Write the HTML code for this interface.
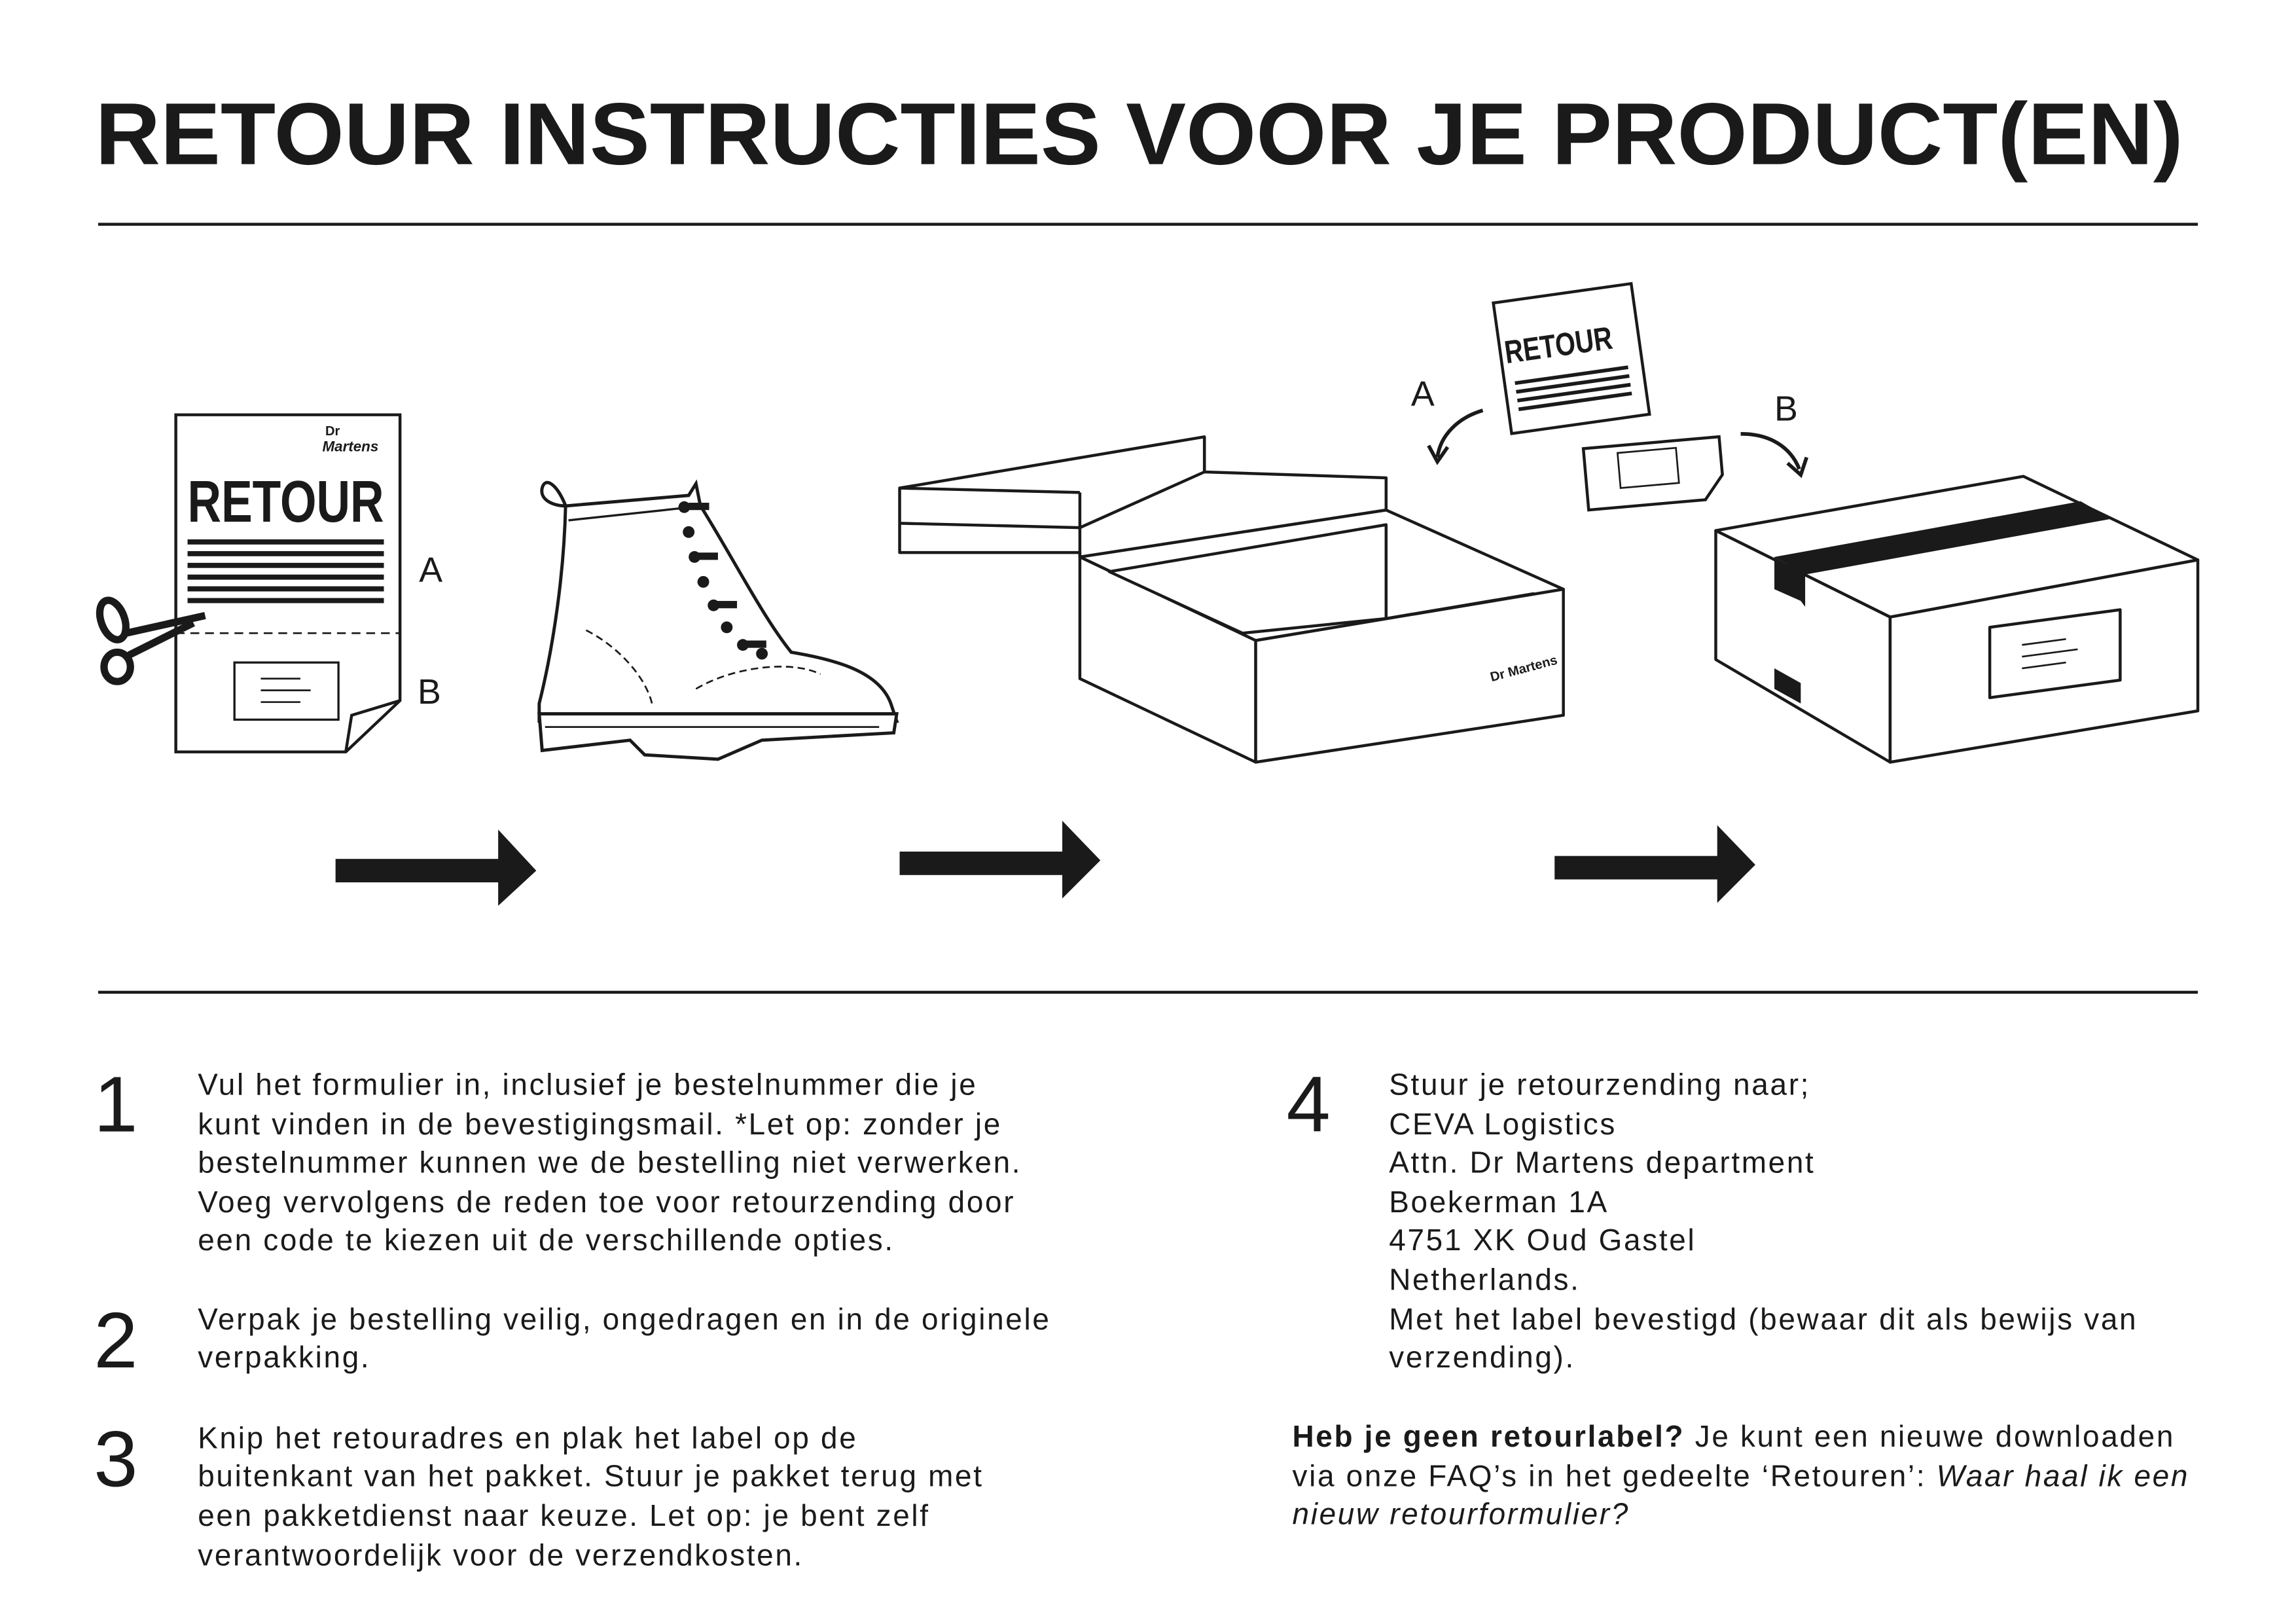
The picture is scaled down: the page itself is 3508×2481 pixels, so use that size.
<!DOCTYPE html>
<html><head><meta charset="utf-8"><style>
html,body{margin:0;padding:0;background:#fff}
svg{display:block}
text{font-family:"Liberation Sans",sans-serif;fill:#1a1a1a}
</style></head><body>
<svg width="3508" height="2481" viewBox="0 0 1567 1108" preserveAspectRatio="none" xmlns="http://www.w3.org/2000/svg">
<rect width="1567" height="1108" fill="#fff"/>
<text x="65" y="112" font-size="60" font-weight="bold" textLength="1425" lengthAdjust="spacingAndGlyphs">RETOUR INSTRUCTIES VOOR JE PRODUCT(EN)</text>
<line x1="67" y1="153" x2="1500" y2="153" stroke="#1a1a1a" stroke-width="2"/>
<line x1="67" y1="677" x2="1500" y2="677" stroke="#1a1a1a" stroke-width="2"/>

<g fill="#1a1a1a">
<rect x="229" y="586" width="112" height="16"/><polygon points="340,566 366,594 340,618"/>
<rect x="614" y="581" width="112" height="16"/><polygon points="725,560 751,587 725,613"/>
<rect x="1061" y="584" width="112" height="16"/><polygon points="1172,563 1198,590 1172,616"/>
</g>

<!-- Document -->
<g stroke="#1a1a1a" stroke-width="2" fill="none">
<path d="M120,283 H273 V478 L236,513 H120 Z" fill="#fff"/>
<path d="M236,513 L240,488 L273,478" />
<line x1="120" y1="432" x2="273" y2="432" stroke-dasharray="6,4" stroke-width="1.2"/>
<rect x="160" y="452" width="71" height="39" stroke-width="1.5"/>
<line x1="178" y1="463" x2="205" y2="463" stroke-width="1.2"/><line x1="178" y1="471" x2="212" y2="471" stroke-width="1.2"/><line x1="178" y1="479" x2="205" y2="479" stroke-width="1.2"/>
</g>
<g fill="#1a1a1a">
<rect x="128" y="368" width="134" height="3.5"/><rect x="128" y="376" width="134" height="3.5"/><rect x="128" y="384" width="134" height="3.5"/><rect x="128" y="392" width="134" height="3.5"/><rect x="128" y="400" width="134" height="3.5"/><rect x="128" y="408" width="134" height="3.5"/>
</g>
<text x="128" y="356" font-size="40" font-weight="bold" textLength="134" lengthAdjust="spacingAndGlyphs">RETOUR</text>
<text x="222" y="297" font-size="9" font-weight="bold">Dr</text><text x="220" y="308" font-size="10" font-weight="bold" font-style="italic">Martens</text>
<text x="286" y="397" font-size="24">A</text><text x="285" y="480" font-size="24">B</text>
<!-- scissors -->
<g stroke="#1a1a1a" stroke-width="5" fill="none">
<ellipse cx="77" cy="423" rx="8" ry="14" transform="rotate(-20 77 423)"/>
<ellipse cx="80" cy="455" rx="9" ry="10"/>
<line x1="86" y1="432" x2="140" y2="420"/>
<line x1="88" y1="447" x2="132" y2="425"/>
</g>

<!-- Boot -->
<g stroke="#1a1a1a" stroke-width="2.2" fill="#fff">
<path d="M386,345 C380,330 372,325 370,333 C368,342 380,346 388,345 L470,338 L475,330 L478,345 C500,380 520,420 540,445 C570,450 600,458 608,480 L612,492 L368,492 L368,480 C378,440 385,390 386,345 Z"/>
<path d="M368,487 L612,487 L610,500 L520,505 L490,518 L440,515 L430,505 L370,512 Z"/>
<path d="M372,496 L600,496" stroke-width="1.2" fill="none"/>
<path d="M388,355 L472,346" fill="none" stroke-width="1.5"/>
<path d="M475,470 C500,455 540,450 560,460" fill="none" stroke-width="1.2" stroke-dasharray="5,3"/>
<path d="M400,430 C420,440 440,460 445,480" fill="none" stroke-width="1.2" stroke-dasharray="5,3"/>
</g>
<g fill="#1a1a1a">
<circle cx="467" cy="346" r="4"/><circle cx="470" cy="363" r="4"/><circle cx="474" cy="380" r="4"/><circle cx="480" cy="397" r="4"/><circle cx="487" cy="413" r="4"/><circle cx="496" cy="428" r="4"/><circle cx="507" cy="440" r="4"/><circle cx="520" cy="446" r="4"/>
<rect x="470" y="343" width="14" height="5"/><rect x="476" y="377" width="14" height="5"/><rect x="489" y="410" width="14" height="5"/><rect x="509" y="437" width="14" height="5"/>
</g>

<!-- Open box -->
<g stroke="#1a1a1a" stroke-width="2" fill="#fff" stroke-linejoin="round">
<polygon points="614,333 822,298 822,322 946,326 946,348 737,380 737,377 614,377"/>
<line x1="614" y1="357" x2="737" y2="360"/>
<line x1="737" y1="360" x2="822" y2="322"/>
<line x1="822" y1="322" x2="822" y2="298"/>
<line x1="614" y1="333" x2="737" y2="336"/><line x1="737" y1="336" x2="737" y2="380"/>
<polygon points="737,380 946,348 1067,402 857,437"/>
<polygon points="737,380 857,437 857,520 737,463"/>
<polygon points="857,437 1067,402 1067,488 857,520"/>
<polygon points="757,390 946,358 946,422 848,432" fill="#fff"/>
<line x1="946" y1="422" x2="1047" y2="405"/>
</g>
<text x="1018" y="465" font-size="9" font-weight="bold" transform="rotate(-15 1018 465)">Dr Martens</text>

<!-- Closed box -->
<g stroke="#1a1a1a" stroke-width="2" fill="#fff" stroke-linejoin="round">
<polygon points="1171,362 1381,325 1500,382 1290,421"/>
<polygon points="1171,362 1290,421 1290,520 1171,450"/>
<polygon points="1290,421 1500,382 1500,485 1290,520"/>
<polygon points="1358,428 1447,416 1447,464 1358,476"/>
<line x1="1380" y1="440" x2="1410" y2="436" stroke-width="1.2"/><line x1="1380" y1="448" x2="1418" y2="443" stroke-width="1.2"/><line x1="1380" y1="456" x2="1410" y2="452" stroke-width="1.2"/>
</g>
<g fill="#1a1a1a">
<polygon points="1211,380 1420,342 1441,354 1232,392"/>
<polygon points="1211,380 1232,392 1232,414 1229,410 1211,402"/>
<polygon points="1211,456 1229,466 1229,480 1211,470"/>
</g>

<!-- small doc + label -->
<g transform="rotate(-8 1070 245)" stroke="#1a1a1a" stroke-width="2">
<rect x="1025" y="200" width="95" height="90" fill="#fff"/>
<g fill="#1a1a1a" stroke="none">
<rect x="1032" y="255" width="78" height="2.5"/><rect x="1032" y="261" width="78" height="2.5"/><rect x="1032" y="267" width="78" height="2.5"/><rect x="1032" y="273" width="78" height="2.5"/>
</g>
</g>
<text x="1028" y="248" font-size="22" font-weight="bold" transform="rotate(-8 1028 248)" textLength="74" lengthAdjust="spacingAndGlyphs">RETOUR</text>
<g transform="rotate(-5 1128 320)" stroke="#1a1a1a" stroke-width="2" fill="#fff">
<path d="M1082,302 H1175 V328 L1162,344 H1082 Z"/>
<rect x="1105" y="307" width="40" height="24" stroke-width="1.2"/>
</g>
<g stroke="#1a1a1a" stroke-width="2.5" fill="none">
<path d="M1012,280 C995,285 983,297 981,312"/><path d="M975,304 L981,315 L988,305"/>
<path d="M1188,296 C1208,296 1222,305 1228,320"/><path d="M1220,316 L1229,324 L1233,312"/>
</g>
<text x="963" y="277" font-size="24">A</text><text x="1211" y="287" font-size="24">B</text>

<!-- numbers -->
<g font-size="54">
<text x="64" y="772">1</text><text x="64" y="933">2</text><text x="64" y="1014">3</text><text x="878" y="772">4</text>
</g>
<g font-size="20.5" letter-spacing="1.2">
<text x="135" y="747">Vul het formulier in, inclusief je bestelnummer die je</text>
<text x="135" y="774">kunt vinden in de bevestigingsmail. *Let op: zonder je</text>
<text x="135" y="800">bestelnummer kunnen we de bestelling niet verwerken.</text>
<text x="135" y="827">Voeg vervolgens de reden toe voor retourzending door</text>
<text x="135" y="853">een code te kiezen uit de verschillende opties.</text>
<text x="135" y="907">Verpak je bestelling veilig, ongedragen en in de originele</text>
<text x="135" y="933">verpakking.</text>
<text x="135" y="988">Knip het retouradres en plak het label op de</text>
<text x="135" y="1014">buitenkant van het pakket. Stuur je pakket terug met</text>
<text x="135" y="1041">een pakketdienst naar keuze. Let op: je bent zelf</text>
<text x="135" y="1068">verantwoordelijk voor de verzendkosten.</text>
<text x="948" y="747">Stuur je retourzending naar;</text>
<text x="948" y="774">CEVA Logistics</text>
<text x="948" y="800">Attn. Dr Martens department</text>
<text x="948" y="827">Boekerman 1A</text>
<text x="948" y="853">4751 XK Oud Gastel</text>
<text x="948" y="880">Netherlands.</text>
<text x="948" y="907">Met het label bevestigd (bewaar dit als bewijs van</text>
<text x="948" y="933">verzending).</text>
<text x="882" y="987"><tspan font-weight="bold">Heb je geen retourlabel?</tspan> Je kunt een nieuwe downloaden</text>
<text x="882" y="1014">via onze FAQ’s in het gedeelte ‘Retouren’: <tspan font-style="italic">Waar haal ik een</tspan></text>
<text x="882" y="1040" font-style="italic">nieuw retourformulier?</text>
</g>
</svg>
</body></html>
